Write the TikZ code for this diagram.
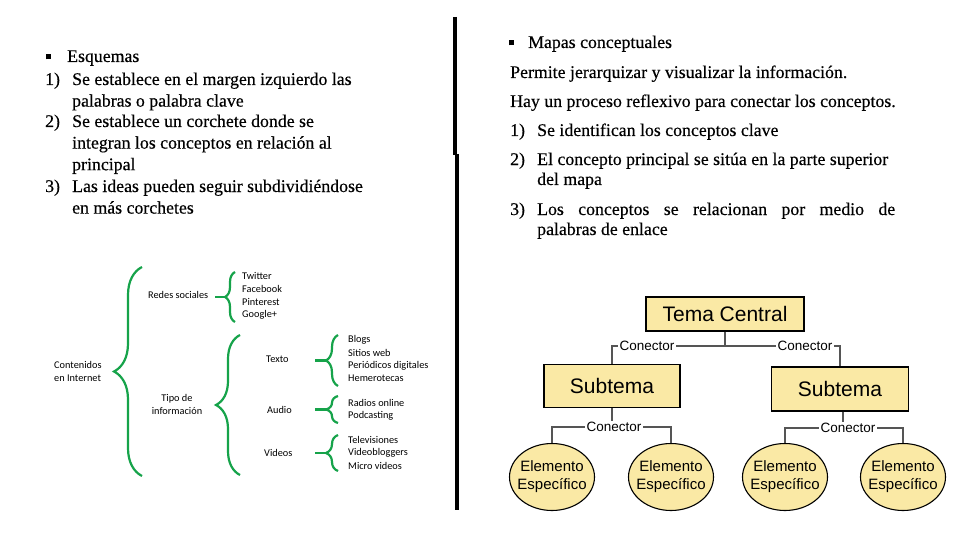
\documentclass[tikz,border=0pt]{standalone}
\usepackage{fontspec}
\setmainfont[FakeBold=0.4]{Liberation Serif}
\newfontfamily\mapfont{Liberation Sans}
\newfontfamily\brfont{Carlito}
\usetikzlibrary{shapes.geometric,decorations.pathreplacing}
\definecolor{brgreen}{RGB}{22,163,74}
\definecolor{boxfill}{RGB}{250,233,165}
\definecolor{linegray}{RGB}{85,85,85}
\newcommand{\sqbullet}{\rule[2.5pt]{5pt}{5pt}}
\begin{document}
\begin{tikzpicture}[x=1pt,y=-1pt,
  txt/.style={anchor=base west,inner sep=0pt},
  ltxt/.style={txt,font=\fontsize{17.8}{21.6}\selectfont},
  rtxt/.style={txt,font=\fontsize{17.8}{20}\selectfont},
  brtxt/.style={anchor=west,inner sep=0pt,font=\brfont\fontsize{10.3}{13}\selectfont,align=left},
  brace/.style={draw=brgreen,line width=2.2pt,decorate,decoration={brace,amplitude=#1}},
  stub/.style={draw=brgreen,line width=2.2pt},
  mapbox/.style={draw=black,line width=1.1pt,fill=boxfill,rectangle,inner sep=0pt,font=\mapfont\fontsize{21}{24}\selectfont},
  mapell/.style={draw=black,line width=1.1pt,fill=boxfill,ellipse,inner sep=-5pt,minimum width=85pt,minimum height=67pt,align=center,font=\mapfont\fontsize{15}{18}\selectfont},
  conn/.style={fill=white,inner sep=1.5pt,font=\mapfont\fontsize{13.5}{15}\selectfont},
  mline/.style={draw=linegray,line width=1.1pt}
]
\useasboundingbox[fill=white] (0,0) rectangle (960,540);

% divider
\draw[line width=4pt] (455,17) -- (455,155);
\draw[line width=4pt] (457,154) -- (457,510);

% left text
\node[ltxt] (eb) at (46,62) {\sqbullet};
\node[ltxt] (eh) at (67,62) {Esquemas};
\node[ltxt] (e1n) at (45,85) {1)};
\node[ltxt] (e1) at (72,85) {\parbox[t]{360pt}{Se establece en el margen izquierdo las\\palabras o palabra clave}};
\node[ltxt] (e2n) at (45,127) {2)};
\node[ltxt] (e2) at (72,127) {\parbox[t]{360pt}{Se establece un corchete donde se\\integran los conceptos en relación al\\principal}};
\node[ltxt] (e3n) at (45,192) {3)};
\node[ltxt] (e3) at (72,192) {\parbox[t]{360pt}{Las ideas pueden seguir subdividiéndose\\en más corchetes}};

% right text
\node[rtxt] (mb) at (509,48) {\sqbullet};
\node[rtxt] (mh) at (528,48) {Mapas conceptuales};
\node[rtxt] (p1) at (510,78) {Permite jerarquizar y visualizar la información.};
\node[rtxt] (p2) at (510,107) {Hay un proceso reflexivo para conectar los conceptos.};
\node[rtxt] (r1n) at (510,136) {1)};
\node[rtxt] (r1) at (537,136) {Se identifican los conceptos clave};
\node[rtxt] (r2n) at (510,165) {2)};
\node[rtxt] (r2) at (537,165) {\parbox[t]{400pt}{El concepto principal se sitúa en la parte superior\\del mapa}};
\node[rtxt] (r3n) at (510,215) {3)};
\node[rtxt] (r3) at (537,215) {\parbox[t]{400pt}{\makebox[358pt][s]{Los conceptos se relacionan por medio de}\\palabras de enlace}};

% brace diagram
\node[brtxt] (ci) at (54,371) {Contenidos\\en Internet};
\node[brtxt] (rs) at (148,295) {Redes sociales};
\node[brtxt,anchor=center,align=center] (ti) at (177,404) {Tipo de\\información};
\node[brtxt] (tw) at (242,276) {Twitter};
\node[brtxt] (fb) at (242,289) {Facebook};
\node[brtxt] (pi) at (242,302) {Pinterest};
\node[brtxt] (gp) at (242,315) {Google+};
\node[brtxt] (tx) at (266,359) {Texto};
\node[brtxt] (au) at (267,410) {Audio};
\node[brtxt] (vi) at (264,453) {Videos};
\node[brtxt] (bl) at (348,340) {Blogs};
\node[brtxt] (sw) at (348,353) {Sitios web};
\node[brtxt] (pd) at (348,366) {Periódicos digitales};
\node[brtxt] (he) at (348,378) {Hemerotecas};
\node[brtxt] (ro) at (348,403) {Radios online};
\node[brtxt] (pc) at (348,416) {Podcasting};
\node[brtxt] (tv) at (348,440) {Televisiones};
\node[brtxt] (vb) at (348,453) {Videobloggers};
\node[brtxt] (mv) at (348,466) {Micro videos};

\path[brace=28pt] (142,476) -- (142,267);
\path[brace=10pt] (235,322) -- (235,272);
\draw[stub] (215,297) -- (226,297);
\path[brace=24pt] (240,475) -- (240,335);
\path[brace=12pt] (338,386) -- (338,335);
\draw[stub] (315,360.5) -- (327,360.5);
\path[brace=12pt] (338,423) -- (338,396);
\draw[stub] (315,409.5) -- (327,409.5);
\path[brace=12pt] (338,471) -- (338,435);
\draw[stub] (315,453) -- (327,453);

% concept map
\node[mapbox,minimum width=158pt,minimum height=34pt] (tema) at (725,314) {Tema Central};
\node[mapbox,minimum width=136pt,minimum height=43pt] (sub1) at (612,386) {Subtema};
\node[mapbox,minimum width=137pt,minimum height=44pt] (sub2) at (840,389) {Subtema};
\node[mapell] (el1) at (552,477) {Elemento\\Específico};
\node[mapell] (el2) at (671,477) {Elemento\\Específico};
\node[mapell] (el3) at (785,477) {Elemento\\Específico};
\node[mapell] (el4) at (903,477) {Elemento\\Específico};

\coordinate (h1) at (725,346);
\draw[mline] (tema.south) -- (h1);
\draw[mline] (h1) -| (sub1.north);
\draw[mline] (h1) -| (sub2.north);
\node[conn] (c1) at (647,346) {Conector};
\node[conn] (c2) at (805,346) {Conector};

\coordinate (h2) at (612,427);
\draw[mline] (sub1.south) -- (h2);
\draw[mline] (h2) -| (el1.north);
\draw[mline] (h2) -| (el2.north);
\node[conn] (c3) at (614,427) {Conector};

\coordinate (h3) at (843,428);
\draw[mline] (sub2.south -| h3) -- (h3);
\draw[mline] (h3) -| (el3.north);
\draw[mline] (h3) -| (el4.north);
\node[conn] (c4) at (848,428) {Conector};
\end{tikzpicture}
\end{document}
